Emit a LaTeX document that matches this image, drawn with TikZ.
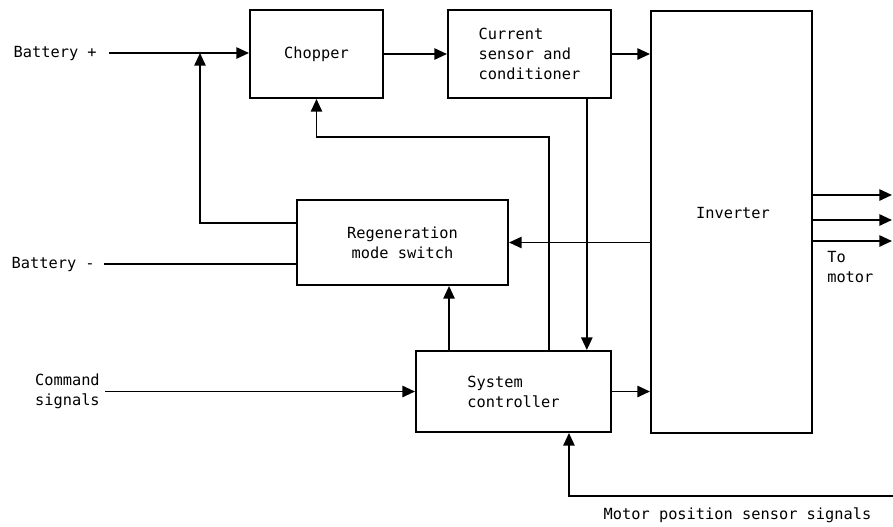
\documentclass[tikz,border=0pt]{standalone}
\usepackage{fontspec}
\setmainfont{DejaVu Sans Mono}
\usetikzlibrary{arrows.meta}

\begin{document}
\begin{tikzpicture}[x=0.75pt, y=-0.75pt,
    font=\fontsize{11.5}{15}\selectfont,
    block/.style={draw, line width=1.5pt, inner sep=0pt},
    wire/.style={line width=1.3pt},
    arr/.style={wire, -{Triangle[length=9.5pt, width=8.5pt]}},
    lbl/.style={inner sep=0pt, align=left}]
  \useasboundingbox (0, 0) rectangle (893, 526);

  % blocks
  \node[block, minimum width=99.75pt, minimum height=66pt] (chopper) at (316.5, 54) {Chopper};
  \node[block, minimum width=122.25pt, minimum height=66pt, align=left] (current) at (529.5, 54)
    {Current\\sensor and\\conditioner};
  \node[block, minimum width=120.75pt, minimum height=316.5pt] (inv) at (731.5, 222) {};
  \node[lbl] (invlabel) at (733, 213) {Inverter};
  \node[block, minimum width=158.25pt, minimum height=63.75pt, align=center] (regen) at (402.5, 242.5)
    {Regeneration\\mode switch};
  \node[block, minimum width=146.25pt, minimum height=60.75pt, align=left] (ctrl) at (513.5, 391.5)
    {System\\controller};

  % outside labels
  \node[lbl, anchor=east] (bplus) at (97, 53) {Battery +};
  \node[lbl, anchor=east] (bminus) at (95, 264) {Battery -};
  \node[lbl, anchor=east] (cmd) at (100, 391.5) {Command\\signals};
  \node[lbl, anchor=west] (tomotor) at (827, 267.5) {To\\motor};
  \node[lbl] (mpslabel) at (737.5, 515) {Motor position sensor signals};

  \coordinate (tee) at (200, 53);
  \coordinate (mps) at (893, 496);

  % power path
  \draw[arr] ([xshift=9pt]bplus.east) -- (bplus.east -| chopper.west);
  \draw[arr] (chopper.east) -- (current.west);
  \draw[arr] (current.east) -- (current.east -| inv.west);
  \draw[wire] ([xshift=7pt]bminus.east) -- (bminus.east -| regen.west);
  \draw[arr] ([yshift=14.6pt]regen.west) -| (tee);
  \draw[arr] (regen.east -| inv.west) -- (regen.east);

  % control path
  \draw[arr] ([xshift=4pt]cmd.east |- ctrl.west) -- (ctrl.west);
  \draw[arr] (ctrl.east) -- (ctrl.east -| inv.west);
  \draw[arr] ([xshift=43pt]current.south) -- ([xshift=43pt]current.south |- ctrl.north);
  \draw[arr] ([xshift=26.6pt]ctrl.north) |- ([yshift=-28.5pt]chopper.south) -- (chopper.south);
  \draw[arr] ([xshift=34.9pt]regen.south |- ctrl.north) -- ([xshift=34.9pt]regen.south);
  \draw[arr] (mps) -| ([xshift=41.6pt]ctrl.south);

  % outputs to motor
  \foreach \y in {195, 220, 241} {
    \coordinate (out\y) at (892, \y);
    \draw[arr] (inv.east |- out\y) -- (out\y);
  }
\end{tikzpicture}
\end{document}
